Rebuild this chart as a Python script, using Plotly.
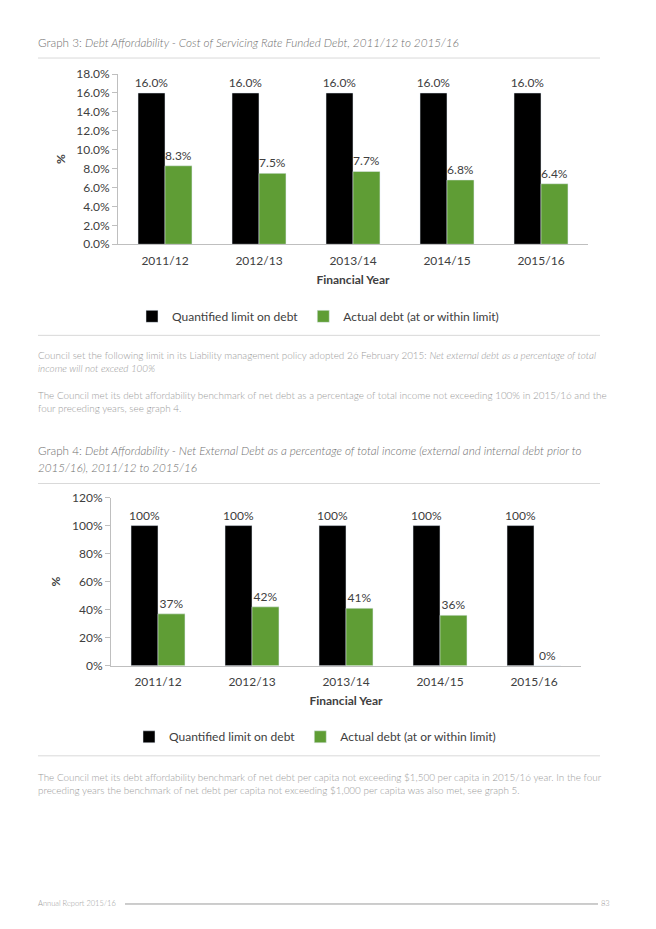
import plotly.graph_objects as go

W, H = 640, 913   # page body adds 8px margin on each side -> 656 x 929 window
OFF = 8

years = ["2011/12", "2012/13", "2013/14", "2014/15", "2015/16"]
g3_limit = [16.0, 16.0, 16.0, 16.0, 16.0]
g3_actual = [8.3, 7.5, 7.7, 6.8, 6.4]
g4_limit = [100, 100, 100, 100, 100]
g4_actual = [37, 42, 41, 36, 0]
g3_ticks = [0, 2, 4, 6, 8, 10, 12, 14, 16, 18]
g3_ticktext = ["0.0%", "2.0%", "4.0%", "6.0%", "8.0%", "10.0%", "12.0%", "14.0%", "16.0%", "18.0%"]
g4_ticks = [0, 20, 40, 60, 80, 100, 120]
g4_ticktext = ["0%", "20%", "40%", "60%", "80%", "100%", "120%"]

BLACK = "#000000"
GREEN = "#5f9d35"
AX = "#bfbfbf"
TXT = "#404040"
GRAY = "#9a9a9a"
CF = "Lato"


def px(x):
    return (x - OFF) / W


def py(y):
    return 1 - (y - 16) / 897


fig = go.Figure()

common_bar = dict(textposition="outside", cliponaxis=False, constraintext="none",
                  textfont=dict(family=CF, size=12, color=TXT))
fig.add_trace(go.Bar(x=years, y=g3_limit, name="Quantified limit on debt", marker_color=BLACK,
                     texttemplate="%{y:.1f}%", xaxis="x", yaxis="y", legend="legend", **common_bar))
fig.add_trace(go.Bar(x=years, y=g3_actual, name="Actual debt (at or within limit)", marker_color=GREEN,
                     texttemplate="%{y:.1f}%", xaxis="x", yaxis="y", legend="legend", **common_bar))
fig.add_trace(go.Bar(x=years, y=g4_limit, name="Quantified limit on debt", marker_color=BLACK,
                     texttemplate="%{y:.0f}%", xaxis="x2", yaxis="y2", legend="legend2", **common_bar))
fig.add_trace(go.Bar(x=years, y=g4_actual, name="Actual debt (at or within limit)", marker_color=GREEN,
                     texttemplate="%{y:.0f}%", xaxis="x2", yaxis="y2", legend="legend2", **common_bar))

xcommon = dict(type="category", showline=True, linecolor=AX, linewidth=1, ticks="",
               showgrid=False, zeroline=False, tickfont=dict(family=CF, size=12, color=TXT),
               ticklabelstandoff=5,
               title=dict(text="<b>Financial Year</b>", font=dict(family=CF, size=12, color=TXT), standoff=8))
ycommon = dict(showline=True, linecolor=AX, linewidth=1, ticks="outside", ticklen=5, tickcolor=AX,
               showgrid=False, zeroline=False,
               tickfont=dict(family=CF, size=12, color=TXT),
               title=dict(text="<b>%</b>", font=dict(family=CF, size=12, color=TXT), standoff=8))

fig.update_layout(
    width=W, height=H, margin=dict(l=0, r=0, t=0, b=0),
    paper_bgcolor="white", plot_bgcolor="white",
    barmode="group", bargap=0.426, bargroupgap=0,
    showlegend=True,
    xaxis=dict(domain=[px(118), px(588)], anchor="y", **xcommon),
    yaxis=dict(domain=[py(244), py(74)], anchor="x", range=[0, 18], tickmode="array",
               tickvals=g3_ticks, ticktext=g3_ticktext, **ycommon),
    xaxis2=dict(domain=[px(111), px(581)], anchor="y2", **xcommon),
    yaxis2=dict(domain=[py(665), py(497)], anchor="x2", range=[0, 120], tickmode="array",
                tickvals=g4_ticks, ticktext=g4_ticktext, **ycommon),
    legend=dict(orientation="h", x=px(318), xanchor="center", y=py(316), yanchor="middle",
                font=dict(family=CF, size=12, color=TXT), itemwidth=30, tracegroupgap=0,
                bgcolor="rgba(0,0,0,0)"),
    legend2=dict(orientation="h", x=px(315), xanchor="center", y=py(736), yanchor="middle",
                 font=dict(family=CF, size=12, color=TXT), itemwidth=30, tracegroupgap=0,
                 bgcolor="rgba(0,0,0,0)"),
)

shapes = []
for yy in [58, 335, 483, 755]:
    shapes.append(dict(type="line", xref="paper", yref="paper", x0=px(38), x1=px(600),
                       y0=py(yy), y1=py(yy), line=dict(color="#d9d9d9", width=1)))
shapes.append(dict(type="line", xref="paper", yref="paper", x0=px(125), x1=px(598),
                   y0=py(903), y1=py(903), line=dict(color="#9a9a9a", width=1)))
fig.update_layout(shapes=shapes)

TF = "Lato"
anns = []


def note(x, y, text, size=9.9, color=GRAY, xanchor="left", weight=300):
    anns.append(dict(x=px(x), y=py(y), xref="paper", yref="paper", text=text, showarrow=False,
                     xanchor=xanchor, yanchor="middle", align="left", borderpad=0,
                     font=dict(family=TF, size=size, color=color, weight=weight)))


TS = 11.7
note(37, 42, "Graph 3: <i>Debt Affordability - Cost of Servicing Rate Funded Debt, 2011/12 to 2015/16</i>",
     size=TS, color="#707070")
note(37, 450, "Graph 4: <i>Debt Affordability - Net External Debt as a percentage of total income (external and internal debt prior to</i>",
     size=TS, color="#707070")
note(37, 466, "<i>2015/16), 2011/12 to 2015/16</i>", size=TS, color="#707070")

note(37, 355, "Council set the following limit in its Liability management policy adopted 26 February 2015: <i>Net external debt as a percentage of total</i>")
note(37, 368, "<i>income will not exceed 100%</i>")
note(37, 395, "The Council met its debt affordability benchmark of net debt as a percentage of total income not exceeding 100% in 2015/16 and the")
note(37, 408, "four preceding years, see graph 4.")
note(37, 776, "The Council met its debt affordability benchmark of net debt per capita not exceeding $1,500 per capita in 2015/16 year. In the four")
note(37, 789, "preceding years the benchmark of net debt per capita not exceeding $1,000 per capita was also met, see graph 5.")
note(37, 903, "Annual Report 2015/16", size=7.5, color="#999999")
note(611, 903, "83", size=7.5, color="#999999", xanchor="right")

fig.update_layout(annotations=anns)

fig.write_html("out.html")
